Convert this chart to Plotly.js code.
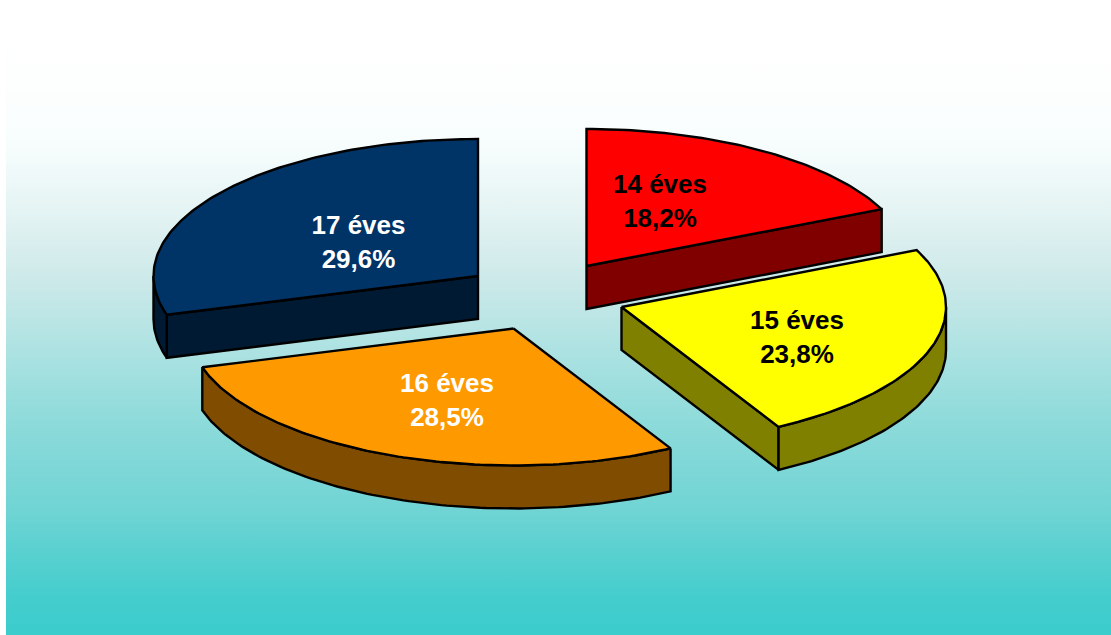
<!DOCTYPE html>
<html>
<head>
<meta charset="utf-8">
<script src="https://cdn.plot.ly/plotly-3.0.1.min.js"></script>
<style>
html,body{margin:0;padding:0;width:1111px;height:635px;overflow:hidden;background:#fff;}
#bg{position:absolute;left:6px;top:0;width:1105px;height:635px;background:linear-gradient(to bottom,#ffffff 0px,#fdfefe 85px,#f7fdfd 146px,#e2f2f2 219px,#cde9e9 280px,#ace2e2 353px,#8cdada 426px,#70d4d4 511px,#58d0d0 555px,#45cdcd 596px,#3bcccc 635px);}
#chart{position:absolute;left:0;top:0;width:1111px;height:635px;}
</style>
</head>
<body>
<div id="bg"></div>
<div id="chart"></div>
<script>
// Data
const categories = ['14 éves', '15 éves', '16 éves', '17 éves'];
const shares = [18.2, 23.8, 28.5, 29.6];
const shareLabels = ['18,2%', '23,8%', '28,5%', '29,6%'];

// Styling and layout
const topColors = ['#ff0000', '#ffff00', '#ff9900', '#003366'];
const sideColors = ['#800000', '#808000', '#804d00', '#001a33'];
const textColors = ['#000000', '#000000', '#ffffff', '#ffffff'];
const apexX = [586.5, 621.5, 513.5, 478];
const apexY = [266, 307, 328.5, 276];
const labelX = [660, 797, 447, 358.5];
const labelY = [186, 322, 385, 227];
const labelGap = 34;
const radiusX = 324.5, radiusY = 137, depth = 43;

function rim(cx, cy, fromDeg, toDeg) {
  const xs = [], ys = [];
  const n = Math.max(2, Math.ceil(Math.abs(toDeg - fromDeg)));
  for (let i = 0; i <= n; i++) {
    const t = (fromDeg + (toDeg - fromDeg) * i / n) * Math.PI / 180;
    xs.push(cx + radiusX * Math.sin(t));
    ys.push(cy - radiusY * Math.cos(t));
  }
  return {xs, ys};
}
function poly(xs, ys, color) {
  return {type: 'scatter', mode: 'lines', x: xs, y: ys, fill: 'toself', fillcolor: color,
    line: {color: '#000000', width: 2.4, shape: 'linear'}, hoverinfo: 'skip', showlegend: false};
}

const traces = [];
const total = shares.reduce((a, b) => a + b, 0);
let cum = 0;
shares.forEach((v, i) => {
  const a0 = cum / total * 360;
  cum += v;
  const a1 = cum / total * 360;
  const cx = apexX[i], cy = apexY[i];
  const startPt = rim(cx, cy, a0, a0), endPt = rim(cx, cy, a1, a1);
  // radial walls that face the viewer
  if (a1 < 180) {
    const px = endPt.xs[0], py = endPt.ys[0];
    traces.push(poly([cx, px, px, cx, cx], [cy, py, py + depth, cy + depth, cy], sideColors[i]));
  }
  if (a0 > 180) {
    const px = startPt.xs[0], py = startPt.ys[0];
    traces.push(poly([cx, px, px, cx, cx], [cy, py, py + depth, cy + depth, cy], sideColors[i]));
  }
  // outer rim wall (front half of the ellipse)
  const r0 = Math.max(a0, 90), r1 = Math.min(a1, 270);
  if (r1 > r0) {
    const r = rim(cx, cy, r0, r1);
    const xs = r.xs.concat(r.xs.slice().reverse(), [r.xs[0]]);
    const ys = r.ys.concat(r.ys.slice().reverse().map(y => y + depth), [r.ys[0]]);
    traces.push(poly(xs, ys, sideColors[i]));
  }
  // top face
  const t = rim(cx, cy, a0, a1);
  traces.push(poly([cx].concat(t.xs, [cx]), [cy].concat(t.ys, [cy]), topColors[i]));
});

traces.push({type: 'scatter', mode: 'text',
  x: labelX.concat(labelX),
  y: labelY.concat(labelY.map(y => y + labelGap)),
  text: categories.concat(shareLabels),
  textposition: 'middle center',
  textfont: {family: '"Liberation Sans", Arial, sans-serif', size: 26, weight: 700,
    color: textColors.concat(textColors)},
  hoverinfo: 'skip', showlegend: false, cliponaxis: false});

const layout = {
  width: 1111, height: 635,
  margin: {l: 0, r: 0, t: 0, b: 0},
  paper_bgcolor: 'rgba(0,0,0,0)', plot_bgcolor: 'rgba(0,0,0,0)',
  showlegend: false,
  xaxis: {range: [0, 1111], visible: false, fixedrange: true},
  yaxis: {range: [635, 0], visible: false, fixedrange: true}
};
Plotly.newPlot('chart', traces, layout, {displayModeBar: false, staticPlot: true});
</script>
</body>
</html>
